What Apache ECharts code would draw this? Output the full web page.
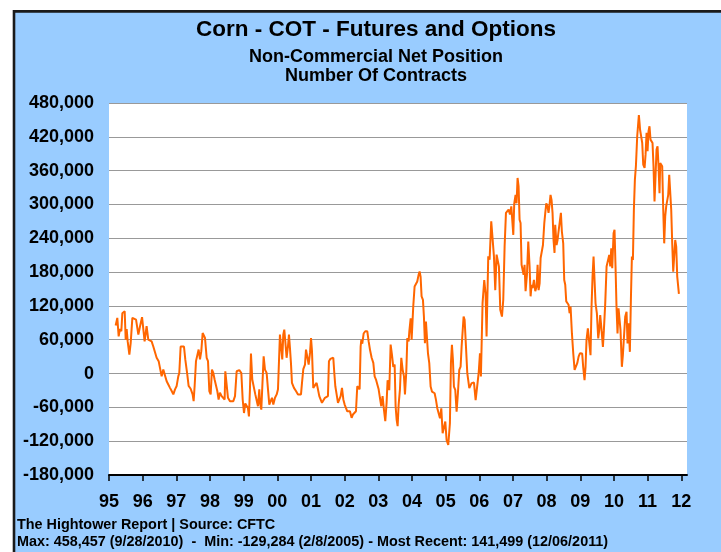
<!DOCTYPE html>
<html>
<head>
<meta charset="utf-8">
<script src="https://cdn.jsdelivr.net/npm/echarts@6/dist/echarts.min.js"></script>
<style>
html,body{margin:0;padding:0;background:#fff;}
#chart{width:721px;height:552px;}
</style>
</head>
<body>
<div id="chart"></div>
<script>
// ---- DATA ----
var titleText = 'Corn - COT - Futures and Options';
var subtitleLines = ['Non-Commercial Net Position', 'Number Of Contracts'];
var footerLines = [
  'The Hightower Report | Source: CFTC',
  'Max: 458,457 (9/28/2010)  -  Min: -129,284 (2/8/2005) - Most Recent: 141,499 (12/06/2011)'
];
var yearTicks = [1995,1996,1997,1998,1999,2000,2001,2002,2003,2004,2005,2006,2007,2008,2009,2010,2011,2012];
var yMin = -180000, yMax = 480000, yStep = 60000;

// decimal year of each reading
var reportDates = [
1995.198,1995.247,1995.287,1995.326,1995.366,1995.396,1995.436,1995.466,1995.496,1995.525,1995.555,1995.605,1995.644,1995.694,1995.753,1995.803,1995.872,1995.922,1995.982,1996.021,
1996.058,1996.117,1996.167,1996.217,1996.266,1996.316,1996.365,1996.415,1996.475,1996.514,1996.564,1996.613,1996.663,1996.713,1996.762,1996.812,1996.862,1996.911,1996.961,1997.010,
1997.058,1997.088,1997.128,1997.167,1997.227,1997.266,1997.326,1997.365,1997.425,1997.484,1997.514,1997.544,1997.584,1997.623,1997.663,1997.703,1997.742,1997.782,1997.812,1997.852,1997.901,1997.941,1997.980,1998.020,
1998.058,1998.098,1998.137,1998.177,1998.217,1998.256,1998.296,1998.346,1998.395,1998.435,1998.455,1998.494,1998.534,1998.594,1998.643,1998.693,1998.743,1998.792,1998.871,1998.931,1998.971,1999.010,
1999.048,1999.088,1999.127,1999.157,1999.187,1999.217,1999.256,1999.306,1999.346,1999.385,1999.425,1999.465,1999.485,1999.524,1999.564,1999.594,1999.633,1999.683,1999.723,1999.762,1999.802,1999.842,1999.881,1999.931,1999.981,2000.020,
2000.048,2000.078,2000.118,2000.147,2000.177,2000.207,2000.237,2000.276,2000.316,2000.346,2000.375,2000.405,2000.435,2000.494,2000.554,2000.614,2000.653,2000.703,2000.733,2000.772,2000.822,2000.852,2000.891,2000.931,2000.971,2001.001,2001.030,
2001.068,2001.118,2001.167,2001.207,2001.247,2001.286,2001.326,2001.366,2001.415,2001.465,2001.504,2001.534,2001.574,2001.623,2001.663,2001.693,2001.723,2001.762,2001.802,2001.842,2001.881,2001.921,2001.961,2002.000,
2002.038,2002.078,2002.117,2002.157,2002.207,2002.246,2002.286,2002.336,2002.375,2002.415,2002.445,2002.475,2002.495,2002.524,2002.564,2002.613,2002.673,2002.713,2002.752,2002.802,2002.852,2002.891,2002.931,2002.971,2003.010,
2003.048,2003.088,2003.127,2003.167,2003.207,2003.246,2003.276,2003.326,2003.366,2003.405,2003.445,2003.485,2003.514,2003.544,2003.574,2003.604,2003.643,2003.683,2003.723,2003.762,2003.792,2003.832,2003.862,2003.901,2003.921,2003.961,2003.990,
2004.038,2004.078,2004.117,2004.157,2004.197,2004.227,2004.256,2004.286,2004.326,2004.355,2004.385,2004.415,2004.445,2004.475,2004.514,2004.554,2004.594,2004.633,2004.673,2004.713,2004.752,2004.792,2004.832,2004.871,2004.911,2004.951,2004.990,
2005.028,2005.078,2005.107,2005.127,2005.157,2005.187,2005.217,2005.246,2005.286,2005.326,2005.365,2005.405,2005.445,2005.475,2005.504,2005.534,2005.564,2005.604,2005.643,2005.703,2005.772,2005.842,2005.891,2005.941,2005.981,2006.020,
2006.048,2006.097,2006.147,2006.187,2006.216,2006.266,2006.306,2006.355,2006.395,2006.435,2006.474,2006.514,2006.554,2006.583,2006.623,2006.673,2006.712,2006.752,2006.792,2006.831,2006.871,2006.911,2006.951,2006.980,2007.010,
2007.038,2007.077,2007.107,2007.137,2007.167,2007.197,2007.226,2007.256,2007.286,2007.316,2007.345,2007.375,2007.415,2007.455,2007.494,2007.524,2007.554,2007.584,2007.623,2007.663,2007.703,2007.732,2007.762,2007.792,2007.822,2007.861,2007.891,2007.931,2007.960,2007.990,
2008.027,2008.057,2008.086,2008.116,2008.146,2008.176,2008.205,2008.235,2008.255,2008.295,2008.325,2008.354,2008.394,2008.424,2008.453,2008.493,2008.523,2008.553,2008.583,2008.612,2008.652,2008.682,2008.711,2008.751,2008.791,2008.831,2008.870,2008.910,2008.950,2008.989,
2009.027,2009.056,2009.086,2009.126,2009.156,2009.185,2009.225,2009.265,2009.304,2009.334,2009.364,2009.394,2009.424,2009.453,2009.493,2009.533,2009.562,2009.592,2009.632,2009.672,2009.701,2009.741,2009.781,2009.820,2009.860,2009.890,2009.920,2009.949,2009.989,
2010.017,2010.047,2010.076,2010.106,2010.136,2010.166,2010.195,2010.235,2010.265,2010.304,2010.334,2010.374,2010.404,2010.433,2010.473,2010.503,2010.533,2010.563,2010.592,2010.622,2010.652,2010.691,2010.740,2010.760,2010.775,2010.811,2010.840,2010.870,2010.910,2010.939,2010.969,2010.999,
2011.027,2011.056,2011.086,2011.116,2011.146,2011.175,2011.205,2011.235,2011.265,2011.295,2011.324,2011.354,2011.374,2011.404,2011.433,2011.463,2011.493,2011.523,2011.552,2011.582,2011.612,2011.642,2011.671,2011.701,2011.731,2011.761,2011.790,2011.820,2011.850,2011.880,2011.930
];

// non-commercial net position (contracts)
var netPosition = [
85100,98700,66000,79000,75000,107000,109000,110500,60000,79000,57000,33700,54000,98700,97000,95700,69000,84000,100000,78000,
57000,84000,60000,63000,57000,48000,45500,28000,22000,19000,-5000,7000,4000,-13600,-19500,-25400,-31000,-37000,-28000,-22000,
-5000,1000,48000,50000,48000,25000,-2000,-22000,-27000,-37000,-49000,-22000,22000,25000,42500,25000,39700,72000,75000,63000,28000,22000,-31000,-37000,
7000,1000,-10600,-7700,-31000,-46000,-34000,-40000,-43000,-46000,4000,6000,-43000,-49000,-51000,-49000,-40000,4000,6000,1000,-46000,-70000,
-53000,-51000,-61000,-76000,-28000,35500,-10600,-13600,-37000,-34000,-58000,-28000,-52000,-64000,-61000,30700,7000,1000,-28000,-55000,-49000,-43000,-55000,-43000,-37000,-28000,
19000,69000,71000,25000,69000,78000,57000,28000,48000,69000,45500,19000,-16500,-25400,-31000,-37000,-40000,-37000,-16500,8000,16000,42500,39700,16000,36600,63000,39700,
-25400,-25400,-16500,-28000,-40000,-40000,-52000,-49000,-43000,-46000,-40000,22000,26000,29500,28000,1000,-22500,-37000,-52000,-55000,-40000,-25400,-46000,-55000,
-52000,-67000,-70000,-67000,-78600,-72700,-70000,-67000,-22500,-20700,-28000,48000,60000,53000,71000,75000,75000,57000,42500,28000,19000,-5000,-10600,-19500,-28000,
-43000,-58000,-40000,-64000,-84500,-52000,-11800,-29500,51400,33700,11800,16000,-58000,-81600,-93400,-55000,-28000,28000,7000,-5000,-37000,4000,63000,57000,74600,98000,60000,
119000,154500,157500,163400,175000,181000,172000,136700,130800,101000,53900,92400,92400,36000,18400,-23000,-32000,-29000,-35000,-46800,-61600,-58600,-79300,-61600,-106000,-103000,-85000,
-117800,-126700,-129284,-88200,18400,51000,24300,-23000,-29000,-67500,-35000,6500,12400,48000,51000,101000,95300,48000,600,-26000,-17000,-16000,-47000,-47000,600,36000,
-5300,125000,166000,142000,65700,208000,202000,270000,267000,208000,148000,211000,208000,190000,113000,101000,131000,225500,285000,282000,291000,282000,296500,293500,246000,
302000,317000,302000,347000,332000,273000,267000,193000,190000,175000,193000,146000,175000,234000,190000,137000,157500,151500,166000,146000,154500,193000,148000,160000,205000,208000,228000,267000,285000,302000,
296500,285000,299000,317000,308000,285000,237000,214000,264000,228000,237000,252000,252000,285000,252000,231000,166000,157500,128000,125000,122000,107000,119000,71600,36000,6500,6500,18400,30000,36000,
32600,35600,11900,-11900,11900,59300,80000,83000,32600,118600,172000,207500,207500,124500,106700,62300,77000,103800,77000,47400,77000,124500,190000,192700,210500,190000,222400,186800,249000,
255000,190000,118600,71200,115600,118600,77000,11900,32600,29600,100800,109700,53400,89000,38500,130500,207500,201600,290500,344000,367700,421000,458457,444700,433000,433000,409000,370600,364700,388400,427000,394300,
430000,438800,415000,412000,409000,367700,305400,350000,397300,403000,367700,320000,373600,370600,367700,293500,231000,278700,296500,296500,317000,352800,350000,290500,231000,180800,183800,237000,225000,172000,141499
];

// ---- CHART ----
var FONT = '"Liberation Sans", Arial, Helvetica, sans-serif';
var seriesData = reportDates.map(function (d, i) { return [d, netPosition[i]]; });

var chart = echarts.init(document.getElementById('chart'), null, {renderer: 'canvas'});
chart.setOption({
  animation: false,
  backgroundColor: '#ffffff',
  graphic: [
    { type: 'rect', z: -10, shape: { x: 14, y: 11.4, width: 730, height: 560 },
      style: { fill: '#99CCFF', stroke: '#1a1a1a', lineWidth: 2.6 } },
    { type: 'text', x: 376, y: 30, style: { text: titleText, align: 'center', verticalAlign: 'middle', font: 'bold 22.5px ' + FONT, fill: '#000' } },
    { type: 'text', x: 376, y: 57, style: { text: subtitleLines[0], align: 'center', verticalAlign: 'middle', font: 'bold 18px ' + FONT, fill: '#000' } },
    { type: 'text', x: 376, y: 76.5, style: { text: subtitleLines[1], align: 'center', verticalAlign: 'middle', font: 'bold 18px ' + FONT, fill: '#000' } },
    { type: 'text', x: 17, y: 525, style: { text: footerLines[0], align: 'left', verticalAlign: 'middle', font: 'bold 14.4px ' + FONT, fill: '#000' } },
    { type: 'text', x: 17, y: 542, style: { text: footerLines[1], align: 'left', verticalAlign: 'middle', font: 'bold 14.4px ' + FONT, fill: '#000' } }
  ],
  grid: {
    left: 109, right: 34, top: 103, bottom: 77,
    show: true, backgroundColor: '#ffffff', borderWidth: 0,
    containLabel: false, outerBoundsMode: 'none'
  },
  xAxis: {
    type: 'value',
    min: 1995, max: 2012.17,
    axisLine: { show: true, onZero: false, lineStyle: { color: '#000', width: 2 } },
    axisTick: { show: true, customValues: yearTicks, length: 6, inside: false, lineStyle: { color: '#000', width: 1.5 } },
    axisLabel: {
      customValues: yearTicks, margin: 18,
      formatter: function (v) { var y = Math.round(v) % 100; return (y < 10 ? '0' : '') + y; },
      color: '#000', fontWeight: 'bold', fontSize: 18, fontFamily: FONT
    },
    splitLine: { show: false }
  },
  yAxis: {
    type: 'value',
    min: yMin, max: yMax, interval: yStep,
    axisLine: { show: false }, axisTick: { show: false },
    axisLabel: {
      margin: 15, color: '#000', fontWeight: 'bold', fontSize: 18, fontFamily: FONT,
      formatter: function (v) { return v.toLocaleString('en-US'); }
    },
    splitLine: { show: true, lineStyle: { color: '#999999', width: 1.2 } }
  },
  series: [{
    type: 'line',
    data: seriesData,
    showSymbol: false,
    symbol: 'none',
    lineStyle: { color: '#FF6600', width: 2 },
    z: 5
  }]
});
</script>
</body>
</html>
